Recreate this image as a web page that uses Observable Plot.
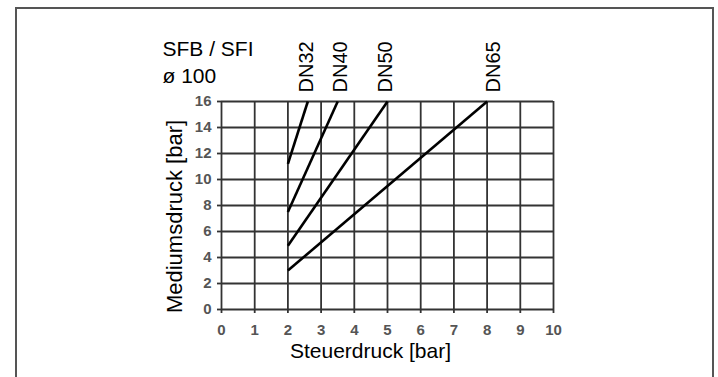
<!DOCTYPE html>
<html><head><meta charset="utf-8">
<script src="https://cdn.jsdelivr.net/npm/d3@7"></script>
<script src="https://cdn.jsdelivr.net/npm/@observablehq/plot@0.6"></script>
<style>
html,body{margin:0;padding:0;background:#fff;}
#wrap{position:relative;width:718px;height:377px;overflow:hidden;}
#border{position:absolute;left:15px;top:7px;width:699px;height:420px;border:2px solid #555;border-bottom:none;box-sizing:border-box;}
#chart{position:absolute;left:0;top:0;}
</style></head><body><div id="wrap"><div id="border"></div><div id="chart"></div></div>
<script>
const series = ["DN32", "DN40", "DN50", "DN65"];
const startX = [2, 2, 2, 2];
const startY = [11.2, 7.5, 4.9, 3];
const endX = [2.6, 3.5, 5, 8];
const endY = [16, 16, 16, 16];
const labelX = [2.55, 3.6, 4.95, 8.2];
const xTicks = [0, 1, 2, 3, 4, 5, 6, 7, 8, 9, 10];
const yTicks = [0, 2, 4, 6, 8, 10, 12, 14, 16];
const xTitle = "Steuerdruck [bar]";
const yTitle = "Mediumsdruck [bar]";
const title1 = "SFB / SFI";
const title2 = "ø 100";

const rows = series.map((s, i) => ({s, x1: startX[i], y1: startY[i], x2: endX[i], y2: endY[i], lx: labelX[i]}));
const grid = "#333";
const tickFont = {fontSize: 15, fontWeight: "bold", fill: "#555"};

const plot = Plot.plot({
  width: 718, height: 377,
  marginLeft: 221, marginRight: 165, marginTop: 101, marginBottom: 68,
  x: {domain: [0, 10]},
  y: {domain: [0, 16]},
  style: {background: "transparent", fontFamily: "'Liberation Sans', Arial, sans-serif", color: "#000"},
  marks: [
    Plot.gridX(xTicks, {stroke: grid, strokeOpacity: 1, strokeWidth: 1.8}),
    Plot.gridY(yTicks, {stroke: grid, strokeOpacity: 1, strokeWidth: 1.8}),
    Plot.axisX(xTicks, {tickSize: 4, tickPadding: 11, stroke: grid, strokeWidth: 1.8, label: null, ...tickFont}),
    Plot.axisY(yTicks, {tickSize: 4, tickPadding: 6, stroke: grid, strokeWidth: 1.8, label: null, ...tickFont}),
    Plot.link(rows, {x1: "x1", y1: "y1", x2: "x2", y2: "y2", stroke: "#000", strokeWidth: 2.6}),
    Plot.text(rows, {x: "lx", y: 16, text: "s", rotate: -90, textAnchor: "start", lineAnchor: "middle", dy: -9, fontSize: 20, fill: "#000"}),
    Plot.text([xTitle], {frameAnchor: "bottom", textAnchor: "middle", lineAnchor: "middle", dx: -17, dy: 42, fontSize: 21, fill: "#000"}),
    Plot.text([yTitle], {frameAnchor: "left", rotate: -90, textAnchor: "middle", lineAnchor: "middle", dx: -47, dy: 11, fontSize: 22, fill: "#000"}),
    Plot.text([title1], {frameAnchor: "top-left", textAnchor: "start", lineAnchor: "middle", dx: -59, dy: -52, fontSize: 21, fill: "#000"}),
    Plot.text([title2], {frameAnchor: "top-left", textAnchor: "start", lineAnchor: "middle", dx: -59, dy: -25, fontSize: 21, fill: "#000"})
  ]
});
document.getElementById("chart").appendChild(plot);
</script>
</body></html>
